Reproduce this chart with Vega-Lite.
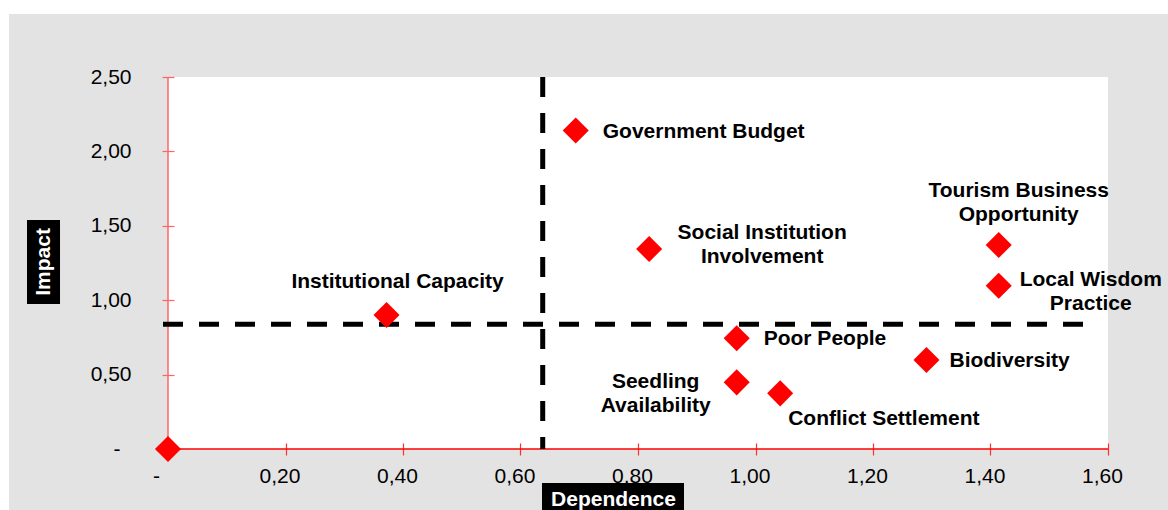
{
  "$schema": "https://vega.github.io/schema/vega-lite/v6.json",
  "autosize": {"type": "none"},
  "width": 940,
  "height": 372,
  "padding": {"left": 168, "top": 77, "right": 60, "bottom": 61},
  "background": "#e3e3e3",
  "config": {
    "view": {"stroke": null, "fill": "#ffffff"},
    "font": "Liberation Sans",
    "text": {"font": "Liberation Sans"}
  },
  "datasets": {
    "points": [
      {"name": "Origin", "label": "", "dependence": 0.0, "impact": 0.0},
      {"name": "Institutional Capacity", "label": "Institutional Capacity", "dependence": 0.372, "impact": 0.90},
      {"name": "Government Budget", "label": "Government Budget", "dependence": 0.694, "impact": 2.14},
      {"name": "Social Institution Involvement", "label": "Social Institution\nInvolvement", "dependence": 0.819, "impact": 1.344},
      {"name": "Tourism Business Opportunity", "label": "Tourism Business\nOpportunity", "dependence": 1.414, "impact": 1.371},
      {"name": "Local Wisdom Practice", "label": "Local Wisdom\nPractice", "dependence": 1.414, "impact": 1.097},
      {"name": "Poor People", "label": "Poor People", "dependence": 0.968, "impact": 0.744},
      {"name": "Biodiversity", "label": "Biodiversity", "dependence": 1.291, "impact": 0.598},
      {"name": "Seedling Availability", "label": "Seedling\nAvailability", "dependence": 0.968, "impact": 0.448},
      {"name": "Conflict Settlement", "label": "Conflict Settlement", "dependence": 1.042, "impact": 0.374}
    ],
    "one": [{"k": 1}]
  },
  "data": {"name": "one"},
  "layer": [
    {
      "mark": {"type": "rect", "color": "#ffffff", "clip": false},
      "encoding": {
        "x": {"datum": -0.3, "type": "quantitative", "scale": {"domain": [0, 1.6], "nice": false, "zero": false}, "axis": {
        "title": null, "grid": false, "domain": false,
        "values": [0, 0.2, 0.4, 0.6, 0.8, 1.0, 1.2, 1.4, 1.6],
        "labelExpr": "datum.value == 0 ? '-' : replace(format(datum.value, '.2f'), '.', ',')",
        "offset": -6, "tickSize": 12, "tickColor": "#ff3030", "tickWidth": 1.2,
        "labelPadding": 10,
        "labelOffset": {"condition": {"test": "datum.value == 0", "value": -12}, "value": -6},
        "labelFlush": false, "labelOverlap": false, "labelBound": false,
        "labelFont": "Liberation Sans", "labelFontSize": 21, "labelColor": "#000000"
      }},
        "x2": {"datum": 1.75},
        "y": {"datum": 3.2, "type": "quantitative", "scale": {"domain": [0, 2.5], "nice": false, "zero": false}, "axis": {
        "title": null, "grid": false, "domain": false,
        "values": [0, 0.5, 1.0, 1.5, 2.0, 2.5],
        "labelExpr": "datum.value == 0 ? '-' : replace(format(datum.value, '.2f'), '.', ',')",
        "offset": -6, "tickSize": 12, "tickColor": "#ff6464", "tickWidth": 1.2,
        "labelPadding": {"condition": {"test": "datum.value == 0", "value": 42}, "value": 31},
        "labelFlush": false, "labelOverlap": false, "labelBound": false,
        "labelFont": "Liberation Sans", "labelFontSize": 21, "labelColor": "#000000"
      }},
        "y2": {"datum": 2.923}
      }
    },
    {
      "mark": {"type": "rect", "color": "#ffffff", "clip": false},
      "encoding": {
        "x": {"datum": -0.3, "type": "quantitative"},
        "x2": {"datum": -0.2706},
        "y": {"datum": 3.2, "type": "quantitative"},
        "y2": {"datum": -0.5}
      }
    },
    {
      "mark": {"type": "rule", "color": "#ff6464", "strokeWidth": 1.5, "clip": false},
      "encoding": {
        "x": {"datum": 0, "type": "quantitative"},
        "y": {"datum": 0, "type": "quantitative"},
        "y2": {"datum": 2.5}
      }
    },
    {
      "mark": {"type": "rule", "color": "#ff0000", "strokeWidth": 1.5, "clip": false},
      "encoding": {
        "x": {"datum": 0, "type": "quantitative"},
        "x2": {"datum": 1.6},
        "y": {"datum": 0, "type": "quantitative"}
      }
    },
    {
      "mark": {"type": "rule", "color": "#000000", "strokeWidth": 5, "strokeDash": [20, 16], "clip": false},
      "encoding": {
        "x": {"datum": 0.6378, "type": "quantitative"},
        "y": {"datum": 2.5, "type": "quantitative"},
        "y2": {"datum": 0}
      }
    },
    {
      "mark": {"type": "rule", "color": "#000000", "strokeWidth": 5, "strokeDash": [20, 16], "clip": false},
      "encoding": {
        "x": {"datum": -0.0085, "type": "quantitative"},
        "x2": {"datum": 1.576},
        "y": {"datum": 0.838, "type": "quantitative"}
      }
    },
    {
      "mark": {"type": "rect", "color": "#000000", "clip": false},
      "encoding": {
        "x": {"datum": -0.240, "type": "quantitative"},
        "x2": {"datum": -0.1838},
        "y": {"datum": 1.539, "type": "quantitative"},
        "y2": {"datum": 0.974}
      }
    },
    {
      "mark": {"type": "text", "text": "Impact", "color": "#ffffff", "font": "Liberation Sans", "fontWeight": "bold", "fontSize": 21, "angle": 270, "align": "center", "baseline": "middle", "clip": false},
      "encoding": {
        "x": {"datum": -0.2119, "type": "quantitative"},
        "y": {"datum": 1.257, "type": "quantitative"}
      }
    },
    {
      "mark": {"type": "rect", "color": "#000000", "clip": false},
      "encoding": {
        "x": {"datum": 0.6366, "type": "quantitative"},
        "x2": {"datum": 0.8783},
        "y": {"datum": -0.2285, "type": "quantitative"},
        "y2": {"datum": -0.4435}
      }
    },
    {
      "mark": {"type": "text", "text": "Dependence", "color": "#ffffff", "font": "Liberation Sans", "fontWeight": "bold", "fontSize": 21, "align": "center", "baseline": "middle", "clip": false},
      "encoding": {
        "x": {"datum": 0.7583, "type": "quantitative"},
        "y": {"datum": -0.3427, "type": "quantitative"}
      }
    },
    {
      "data": {"name": "points"},
      "encoding": {
        "x": {"field": "dependence", "type": "quantitative"},
        "y": {"field": "impact", "type": "quantitative"}
      },
      "layer": [
        {
          "mark": {"type": "point", "shape": "diamond", "filled": true, "color": "#ff0000", "size": 680, "opacity": 1, "strokeWidth": 0, "clip": false}
        },
        {
          "transform": [{"filter": "datum.name == 'Government Budget' || datum.name == 'Poor People'"}],
          "mark": {"type": "text", "font": "Liberation Sans", "fontWeight": "bold", "fontSize": 21, "color": "#000000", "align": "left", "baseline": "middle", "dx": 27, "dy": 1, "lineBreak": "\n", "lineHeight": 24},
          "encoding": {"text": {"field": "label"}}
        },
        {
          "transform": [{"filter": "datum.name == 'Biodiversity'"}],
          "mark": {"type": "text", "font": "Liberation Sans", "fontWeight": "bold", "fontSize": 21, "color": "#000000", "align": "left", "baseline": "middle", "dx": 23, "dy": 1, "lineBreak": "\n", "lineHeight": 24},
          "encoding": {"text": {"field": "label"}}
        },
        {
          "transform": [{"filter": "datum.name == 'Conflict Settlement'"}],
          "mark": {"type": "text", "font": "Liberation Sans", "fontWeight": "bold", "fontSize": 21, "color": "#000000", "align": "left", "baseline": "middle", "dx": 8, "dy": 26, "lineBreak": "\n", "lineHeight": 24},
          "encoding": {"text": {"field": "label"}}
        },
        {
          "transform": [{"filter": "datum.name == 'Institutional Capacity'"}],
          "mark": {"type": "text", "font": "Liberation Sans", "fontWeight": "bold", "fontSize": 21, "color": "#000000", "align": "center", "baseline": "middle", "dx": 11, "dy": -33, "lineBreak": "\n", "lineHeight": 24},
          "encoding": {"text": {"field": "label"}}
        },
        {
          "transform": [{"filter": "datum.name == 'Social Institution Involvement'"}],
          "mark": {"type": "text", "font": "Liberation Sans", "fontWeight": "bold", "fontSize": 21, "color": "#000000", "align": "center", "baseline": "middle", "dx": 113, "dy": -16, "lineBreak": "\n", "lineHeight": 24},
          "encoding": {"text": {"field": "label"}}
        },
        {
          "transform": [{"filter": "datum.name == 'Tourism Business Opportunity'"}],
          "mark": {"type": "text", "font": "Liberation Sans", "fontWeight": "bold", "fontSize": 21, "color": "#000000", "align": "center", "baseline": "middle", "dx": 20, "dy": -54, "lineBreak": "\n", "lineHeight": 24},
          "encoding": {"text": {"field": "label"}}
        },
        {
          "transform": [{"filter": "datum.name == 'Local Wisdom Practice'"}],
          "mark": {"type": "text", "font": "Liberation Sans", "fontWeight": "bold", "fontSize": 21, "color": "#000000", "align": "center", "baseline": "middle", "dx": 92, "dy": -6, "lineBreak": "\n", "lineHeight": 24, "clip": false},
          "encoding": {"text": {"field": "label"}}
        },
        {
          "transform": [{"filter": "datum.name == 'Seedling Availability'"}],
          "mark": {"type": "text", "font": "Liberation Sans", "fontWeight": "bold", "fontSize": 21, "color": "#000000", "align": "center", "baseline": "middle", "dx": -81, "dy": 0, "lineBreak": "\n", "lineHeight": 24},
          "encoding": {"text": {"field": "label"}}
        }
      ]
    }
  ]
}
